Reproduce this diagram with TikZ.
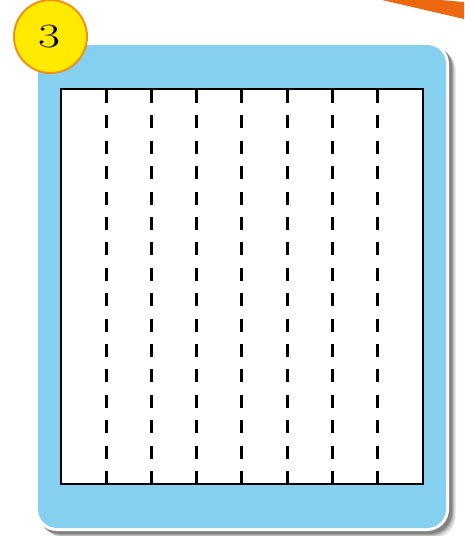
\documentclass[tikz,border=0pt]{standalone}
\usepackage{fontspec}
\begin{document}
\begin{tikzpicture}[x=1pt,y=-1pt,
  dashline/.style={line width=3pt,dash pattern=on 13pt off 12.4pt},
  badge/.style={circle,draw=badgeorange,line width=2pt,fill=badgeyellow,minimum size=73pt,inner sep=0pt},
  badgetext/.style={font=\fontsize{34}{34}\selectfont,inner sep=0pt}
]
\definecolor{cardblue}{RGB}{133,207,239}
\definecolor{badgeyellow}{RGB}{255,234,0}
\definecolor{badgeorange}{RGB}{240,146,20}
\definecolor{stripeorange}{RGB}{236,104,16}
\useasboundingbox (0,0) rectangle (464,536);
% orange stripe
\fill[stripeorange] (382,0) -- (440,0) -- (464,2) -- (464,19) -- cycle;
% shadow
\foreach \o/\a in {7/0.07,6/0.09,5/0.11,4/0.15,3/0.2} {
  \fill[black,opacity=\a,rounded corners=22pt] (35+\o,42+\o) rectangle (449+\o,531+\o);
}
% white border + blue card
\fill[white,rounded corners=22pt] (35,42) rectangle (449,531);
\fill[cardblue,rounded corners=19pt] (38,45) rectangle (446,528);
% inner panel
\draw[fill=white,line width=2.5pt] (61,89) rectangle (423,484);
\foreach \x in {106,151.3,196.6,241.9,287.2,332.5,377.8} {
  \draw[dashline] (\x,90) -- (\x,484);
}
% badge
\node[badge] (num) at (50.5,36.5) {};
\node[badgetext] (numtext) at (49,37) {\scalebox{1.4}[1]{3}};
\end{tikzpicture}
\end{document}
